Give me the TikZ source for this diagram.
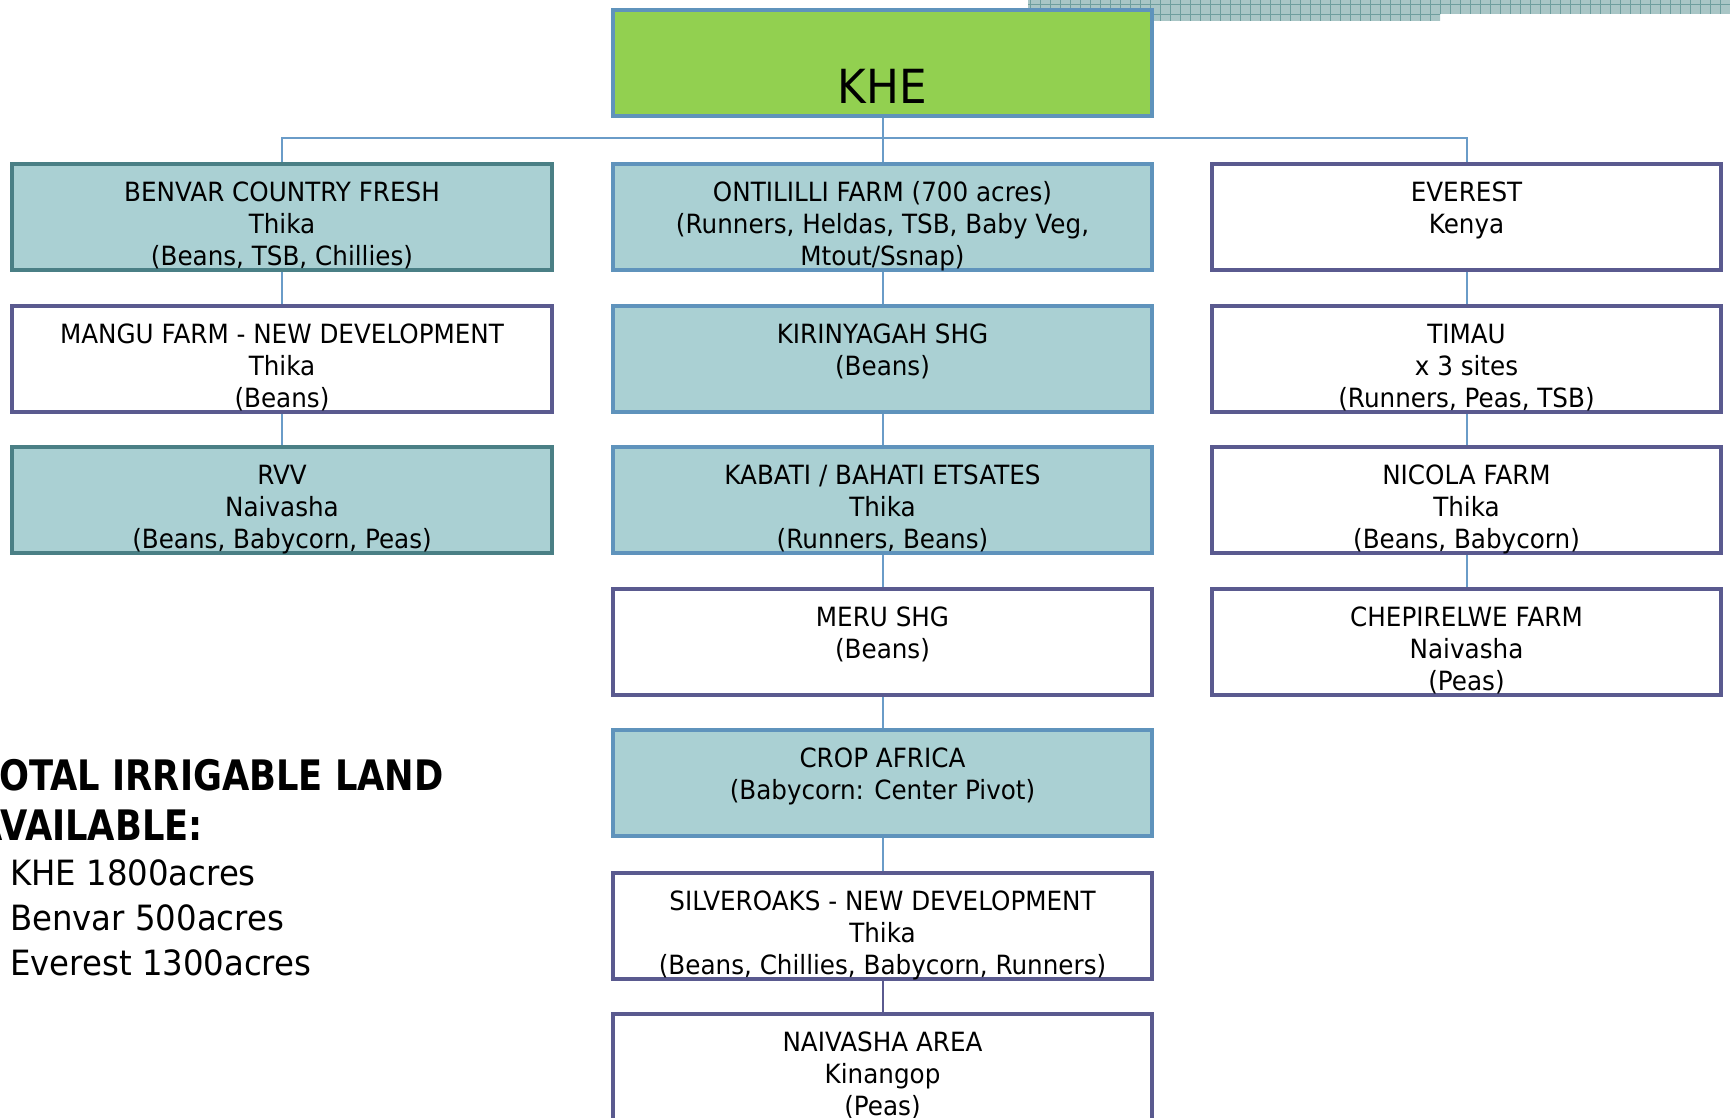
\documentclass[tikz,border=0pt]{standalone}
\usepackage{fontspec}
\newfontfamily\mainf[FakeStretch=0.93]{DejaVu Sans}
\newfontfamily\boldf[FakeStretch=0.84]{DejaVu Sans}
\newcommand\firstl{\rule{0pt}{24pt}}
\definecolor{tealfill}{HTML}{AAD0D3}
\definecolor{tealline}{HTML}{4A7F85}
\definecolor{blueline}{HTML}{5F93BC}
\definecolor{purpline}{HTML}{5A5A8F}
\definecolor{connc}{HTML}{6A9CC8}
\definecolor{khefill}{HTML}{92D050}
\definecolor{bandfill}{HTML}{A9C6C6}
\definecolor{bandline}{HTML}{6E9E9E}
\tikzset{
  boxbase/.style={rectangle, inner sep=0pt, minimum height=106pt, line width=4pt, anchor=north west},
  lbox/.style={boxbase, minimum width=540pt},
  cbox/.style={boxbase, minimum width=539pt},
  rbox/.style={boxbase, minimum width=509pt},
  tealL/.style={fill=tealfill, draw=tealline},
  tealC/.style={fill=tealfill, draw=blueline},
  plain/.style={fill=white, draw=purpline},
  txt/.style={anchor=north, align=center, inner sep=0pt, font={\mainf\fontsize{26.5}{32}\selectfont}},
  conn/.style={draw=connc, line width=2pt},
  connp/.style={draw=purpline, line width=2pt},
}
\begin{document}
\begin{tikzpicture}[x=1pt,y=-1pt]
\useasboundingbox (0,0) rectangle (1730,1118);
% hatched band
\begin{scope}
  \clip (1028,0) rectangle (1730,14) (1028,14) rectangle (1440,21);
  \fill[bandfill] (1028,0) rectangle (1730,24);
  \foreach \x in {1030,1040,...,1730} \draw[bandline, line width=0.8pt] (\x,0) -- (\x,24);
  \foreach \y in {4,14} \draw[bandline, line width=0.8pt] (1028,\y) -- (1730,\y);
\end{scope}
% KHE
\node[boxbase, minimum width=539pt, fill=khefill, draw=blueline] (khe) at (611,8) {};
\node[anchor=base, inner sep=0pt, font={\mainf\fontsize{47}{56}\selectfont}] (khet) at ([yshift=-96pt]khe.north) {KHE};
% left column
\node[lbox, tealL] (b1) at (10,162) {};
\node[lbox, plain] (b2) at (10,304) {};
\node[lbox, tealL] (b3) at (10,445) {};
% center column
\node[cbox, tealC] (c1) at (611,162) {};
\node[cbox, tealC] (c2) at (611,304) {};
\node[cbox, tealC] (c3) at (611,445) {};
\node[cbox, plain] (c4) at (611,587) {};
\node[cbox, tealC] (c5) at (611,728) {};
\node[cbox, plain] (c6) at (611,871) {};
\node[cbox, plain, minimum height=116pt] (c7) at (611,1012) {};
% right column
\node[rbox, plain] (e1) at (1210,162) {};
\node[rbox, plain] (e2) at (1210,304) {};
\node[rbox, plain] (e3) at (1210,445) {};
\node[rbox, plain] (e4) at (1210,587) {};
% texts (first baseline 39pt below the box top)
\node[txt] (b1t) at ([yshift=-15pt]b1.north) {\firstl BENVAR COUNTRY FRESH\\Thika\\(Beans, TSB, Chillies)};
\node[txt] (b2t) at ([yshift=-15pt]b2.north) {\firstl MANGU FARM - NEW DEVELOPMENT\\Thika\\(Beans)};
\node[txt] (b3t) at ([yshift=-15pt]b3.north) {\firstl RVV\\Naivasha\\(Beans, Babycorn, Peas)};
\node[txt] (c1t) at ([yshift=-15pt]c1.north) {\firstl ONTILILLI FARM (700 acres)\\(Runners, Heldas, TSB, Baby Veg,\\Mtout/Ssnap)};
\node[txt] (c2t) at ([yshift=-15pt]c2.north) {\firstl KIRINYAGAH SHG\\(Beans)};
\node[txt] (c3t) at ([yshift=-15pt]c3.north) {\firstl KABATI / BAHATI ETSATES\\Thika\\(Runners, Beans)};
\node[txt] (c4t) at ([yshift=-15pt]c4.north) {\firstl MERU SHG\\(Beans)};
\node[txt] (c5t) at ([yshift=-15pt]c5.north) {\firstl CROP AFRICA\\(Babycorn: Center Pivot)};
\node[txt] (c6t) at ([yshift=-15pt]c6.north) {\firstl SILVEROAKS - NEW DEVELOPMENT\\Thika\\(Beans, Chillies, Babycorn, Runners)};
\node[txt] (c7t) at ([yshift=-15pt]c7.north) {\firstl NAIVASHA AREA\\Kinangop\\(Peas)};
\node[txt] (e1t) at ([yshift=-15pt]e1.north) {\firstl EVEREST\\Kenya};
\node[txt] (e2t) at ([yshift=-15pt]e2.north) {\firstl TIMAU\\x 3 sites\\(Runners, Peas, TSB)};
\node[txt] (e3t) at ([yshift=-15pt]e3.north) {\firstl NICOLA FARM\\Thika\\(Beans, Babycorn)};
\node[txt] (e4t) at ([yshift=-15pt]e4.north) {\firstl CHEPIRELWE FARM\\Naivasha\\(Peas)};
% connectors
\coordinate (j) at (880.5,138);
\draw[conn] (khe.south) -- (c1.north);
\draw[conn] (b1.north) -- (b1.north |- j) -- (e1.north |- j) -- (e1.north);
\draw[conn] (b1.south) -- (b2.north);
\draw[conn] (b2.south) -- (b3.north);
\draw[conn] (c1.south) -- (c2.north);
\draw[conn] (c2.south) -- (c3.north);
\draw[conn] (c3.south) -- (c4.north);
\draw[conn] (c4.south) -- (c5.north);
\draw[conn] (c5.south) -- (c6.north);
\draw[connp] (c6.south) -- (c7.north);
\draw[conn] (e1.south) -- (e2.north);
\draw[conn] (e2.south) -- (e3.north);
\draw[conn] (e3.south) -- (e4.north);
% left summary text
\node[anchor=base west, inner sep=0pt, font={\boldf\bfseries\fontsize{42}{50}\selectfont}] (tot1) at (-25,790) {TOTAL IRRIGABLE LAND};
\node[anchor=base west, inner sep=0pt, font={\boldf\bfseries\fontsize{42}{50}\selectfont}] (tot2) at (-25,840) {AVAILABLE:};
\node[anchor=base west, inner sep=0pt, font={\mainf\fontsize{34.8}{44}\selectfont}] (l1) at (10,885) {KHE 1800acres};
\node[anchor=base west, inner sep=0pt, font={\mainf\fontsize{34.8}{44}\selectfont}] (l2) at (10,930) {Benvar 500acres};
\node[anchor=base west, inner sep=0pt, font={\mainf\fontsize{34.8}{44}\selectfont}] (l3) at (10,975) {Everest 1300acres};
\end{tikzpicture}
\end{document}
